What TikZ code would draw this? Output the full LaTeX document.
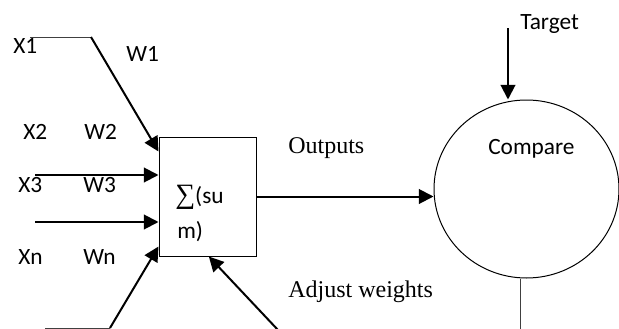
\documentclass[tikz,border=0pt]{standalone}
\usepackage{fontspec}
\setmainfont{Liberation Serif}
\newfontfamily\labelFont{Carlito}
\usetikzlibrary{shapes.geometric,arrows.meta,positioning,calc}

\begin{document}
\begin{tikzpicture}[
    x=0.75pt, y=-0.75pt,
    lbl/.style={anchor=base west, inner sep=0pt, font=\labelFont\fontsize{17.5pt}{20pt}\selectfont},
    serifLbl/.style={anchor=base west, inner sep=0pt, font=\fontsize{18pt}{21pt}\selectfont},
    sumBox/.style={rectangle, draw, line width=0.75pt, minimum width=72.75pt, minimum height=89.25pt, inner sep=0pt},
    cmpEllipse/.style={ellipse, draw, line width=0.75pt, minimum width=138.75pt, minimum height=133.5pt, inner sep=0pt},
    arrow/.style={-{Triangle[length=11pt,width=11pt]}, line width=1.5pt},
    thinLine/.style={draw=black!75, line width=0.6pt}
  ]
    \useasboundingbox (0,0) rectangle (619,329);

    % summing unit and comparator
    \node[sumBox] (sum) at (207.5,196.5) {};
    \node[cmpEllipse] (cmp) at (526.5,189) {};
    \node[lbl] (sumTxt1) at (175,203) {{\rmfamily\fontsize{21pt}{21pt}\selectfont ∑}(su};
    \node[lbl] (sumTxt2) at (177,238) {m)};
    \node[lbl] (cmpTxt) at (488,154) {Compare};

    % input labels
    \node[lbl] (x1Lbl) at (13,53) {X1};
    \node[lbl] (w1Lbl) at (126,61) {W1};
    \node[lbl] (x2Lbl) at (23,139) {X2};
    \node[lbl] (w2Lbl) at (84,139) {W2};
    \node[lbl] (x3Lbl) at (18,192) {X3};
    \node[lbl] (w3Lbl) at (83,192) {W3};
    \node[lbl] (xnLbl) at (18,264) {Xn};
    \node[lbl] (wnLbl) at (83,264) {Wn};
    \node[lbl] (tgtLbl) at (520,29) {Target};
    \node[serifLbl] (outLbl) at (288,153) {Outputs};
    \node[serifLbl] (adjLbl) at (288,297) {Adjust weights};

    % free ends
    \coordinate (x1a) at (30,37);
    \coordinate (x1b) at (91,37);
    \coordinate (x3a) at (35,175);
    \coordinate (xna) at (35,222);
    \coordinate (xba) at (45,328);
    \coordinate (xbb) at (110,328);
    \coordinate (adjA) at (278,330);
    \coordinate (tgtA) at (508,28);
    \coordinate (cmpOut) at (520,330);

    \draw[thinLine] (x1a) -- (x1b);
    \draw[arrow] (x1b) -- ([yshift=-11.25pt]sum.north west);
    \draw[arrow] (x3a) -- (x3a -| sum.west);
    \draw[arrow] (xna) -- (xna -| sum.west);
    \draw[thinLine] (xba) -- (xbb);
    \draw[arrow] (xbb) -- ([yshift=7.5pt]sum.south west);
    \draw[arrow] (adjA) -- ([xshift=1pt]sum.south);
    \draw[arrow] (sum.east) -- (sum.east -| cmp.west);
    \draw[arrow] (tgtA) -- (tgtA |- cmp.north);
    \draw[thinLine] (cmpOut |- cmp.south) -- (cmpOut);
  \end{tikzpicture}
\end{document}
